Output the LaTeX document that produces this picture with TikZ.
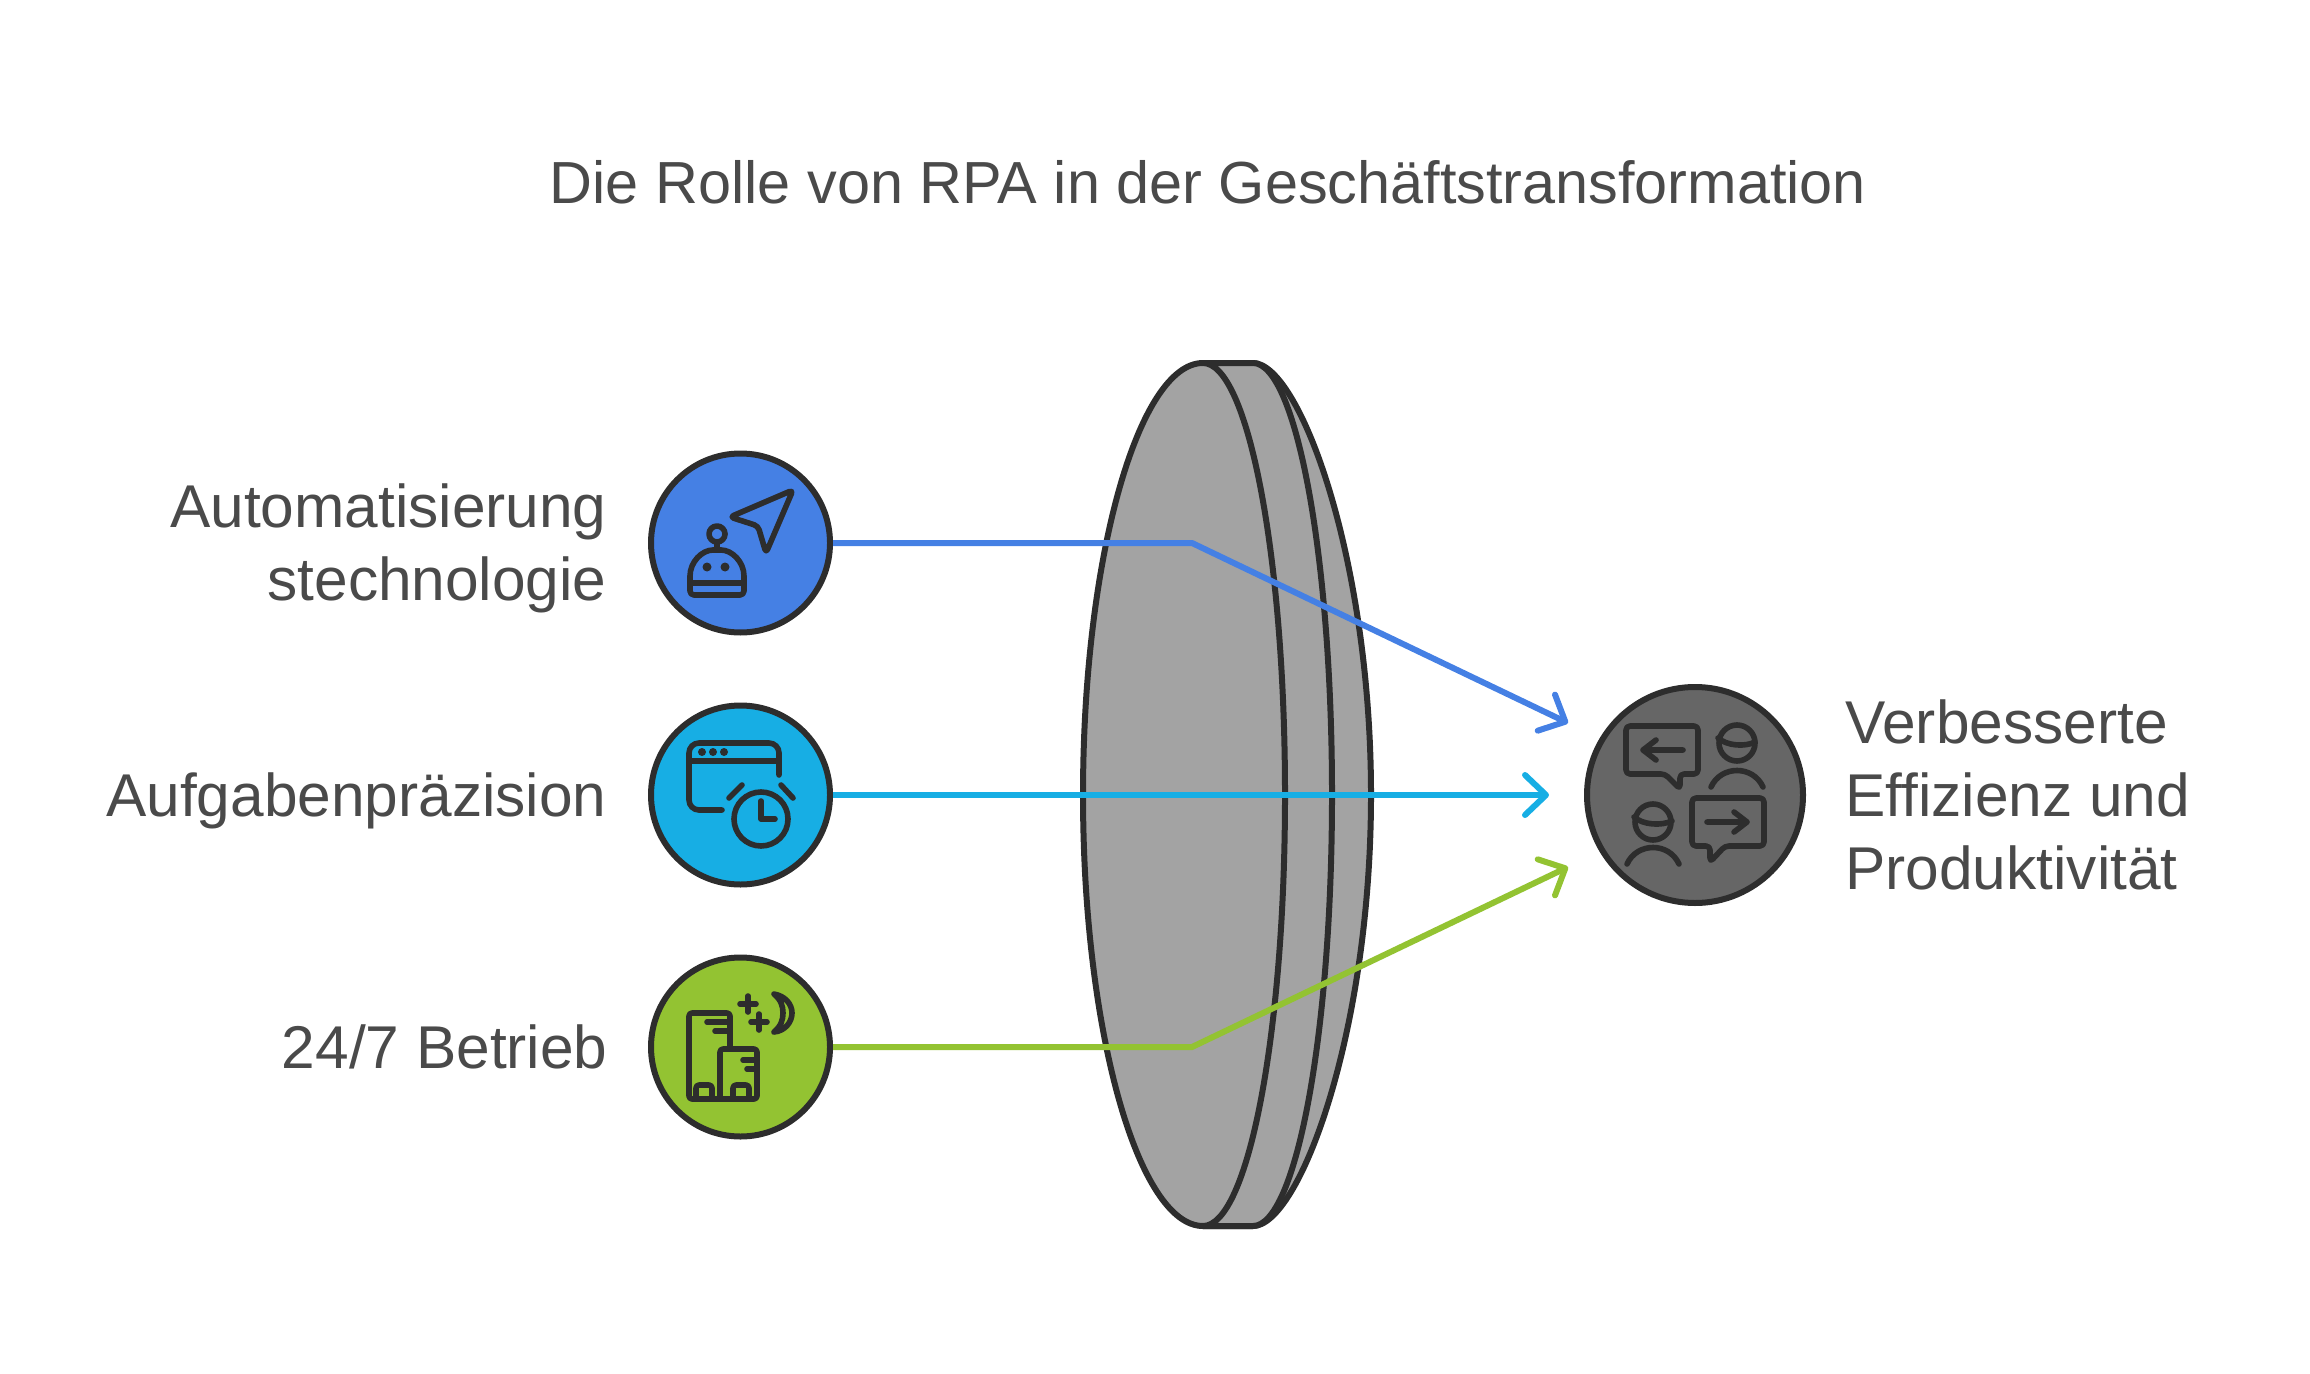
\documentclass[tikz,border=0pt]{standalone}
\usepackage{fontspec}
\setmainfont{Liberation Sans}
\usetikzlibrary{arrows.meta}
\definecolor{ink}{HTML}{2D2D2D}
\definecolor{txt}{HTML}{4A4A4A}
\definecolor{lensfill}{HTML}{A3A3A3}
\definecolor{cblue}{HTML}{4580E4}
\definecolor{ccyan}{HTML}{17AEE4}
\definecolor{cgreen}{HTML}{93C332}
\definecolor{cdark}{HTML}{666666}
\tikzset{
 px/.style={x=0.5pt,y=-0.5pt},
 disc/.style={circle,draw=ink,line width=3pt,minimum size=89.5pt,inner sep=0pt},
 lens/.style={draw=ink,line width=3pt,fill=lensfill,line join=round},
 conn/.style={line width=3pt,-{Straight Barb[length=10.5pt,width=20pt,line width=3pt,round]},line join=miter},
 ico/.style={draw=ink,line width=2.8pt,line cap=round,line join=round},
 lab/.style={text=txt,font=\fontsize{30.2pt}{36.6pt}\selectfont,inner sep=0pt},
}
\begin{document}
\begin{tikzpicture}[px]
\useasboundingbox (0,0) rectangle (2310,1374);
% lens
\path[lens] (1253,363) .. controls (1299,363) and (1371,557) .. (1371,795) .. controls (1371,1033) and (1299,1226) .. (1253,1226) -- (1203,1226) -- (1203,363) -- cycle;
\path[lens] (1253,363) .. controls (1296,363) and (1332,557) .. (1332,795) .. controls (1332,1033) and (1296,1226) .. (1253,1226) -- (1203,1226) -- (1203,363) -- cycle;
\path[lens] (1203,363) .. controls (1248,363) and (1285,557) .. (1285,795) .. controls (1285,1033) and (1248,1226) .. (1203,1226) .. controls (1139,1226) and (1083,1033) .. (1083,795) .. controls (1083,557) and (1139,363) .. (1203,363) -- cycle;
% title
\node[lab,font=\fontsize{29.7pt}{36pt}\selectfont] (title) at (1208,182) {Die Rolle von RPA in der Geschäftstransformation};
% discs
\node[disc,fill=cblue] (a) at (740.5,543) {};
\node[disc,fill=ccyan] (b) at (740.5,795) {};
\node[disc,fill=cgreen] (c) at (740.5,1047) {};
\node[disc,fill=cdark,minimum size=108pt] (d) at (1695,795) {};
% labels
\node[lab,align=right,anchor=east] (la) at (607,548) {Automatisierung\\stechnologie};
\node[lab,anchor=base east] (lb) at (607,816) {Aufgabenpräzision};
\node[lab,anchor=base east] (lc) at (608,1068) {24/7 Betrieb};
\node[lab,align=left,anchor=west] (ld) at (1845,795) {Verbesserte\\Effizienz und\\Produktivität};
% connectors
\coordinate (ta) at (1568,723);
\coordinate (tb) at (1549,795);
\coordinate (tc) at (1568,867);
\coordinate (ka) at (1192,543);
\coordinate (kc) at (1192,1047);
\draw[conn,cblue] (a.east) -- (ka) -- (ta);
\draw[conn,ccyan] (b.east) -- (tb);
\draw[conn,cgreen] (c.east) -- (kc) -- (tc);
% icon: robot + pointer
\draw[ico,rounded corners=2pt] (793,490) -- (730,517) -- (758,526) -- (766,553) -- cycle;
\draw[ico] (717,534) circle (8);
\draw[ico] (717,542) -- (717,550);
\draw[ico,rounded corners=2pt] (690,580) .. controls (690,562) and (702,550) .. (717,550) .. controls (732,550) and (744,562) .. (744,580) -- (744,595) -- (690,595) -- cycle;
\draw[ico] (690,583) -- (744,583);
\fill[ink] (707,567) circle (4.5) (725,567) circle (4.5);
% icon: window + clock
\draw[ico,rounded corners=5pt] (779,775) -- (779,743) -- (689,743) -- (689,810) -- (722,810);
\draw[ico] (689,761) -- (779,761);
\fill[ink] (702,752) circle (4) (713,752) circle (4) (724,752) circle (4);
\draw[ico] (761,819) circle (27);
\draw[ico] (761,801) -- (761,819) -- (775,819);
\draw[ico] (729,798) -- (742,785);
\draw[ico] (781,785) -- (793,798);
% icon: buildings + moon
\draw[ico,rounded corners=1.5pt] (730,1047) -- (730,1013) -- (689,1013) -- (689,1099) -- (757,1099) -- (757,1049) -- (720,1049) -- (720,1099);
\draw[ico] (707,1022) -- (730,1022) (715,1031) -- (730,1031);
\draw[ico] (743,1060) -- (757,1060) (747,1069) -- (757,1069);
\draw[ico,rounded corners=1.5pt] (696,1099) -- (696,1085) -- (712,1085) -- (712,1099);
\draw[ico,rounded corners=1.5pt] (733,1099) -- (733,1085) -- (749,1085) -- (749,1099);
\draw[ico] (748,996) -- (748,1012) (740,1004) -- (756,1004);
\draw[ico] (759,1014) -- (759,1030) (751,1022) -- (767,1022);
\draw[ico] (774,994) .. controls (785,996) and (792,1004) .. (792,1013) .. controls (792,1022) and (785,1031) .. (774,1032) .. controls (781,1026) and (783,1020) .. (783,1013) .. controls (783,1006) and (781,1000) .. (774,994) -- cycle;
% icon: chat
\draw[ico,rounded corners=2pt] (1626,726) -- (1698,726) -- (1698,774) -- (1680,774) -- (1680,789) -- (1665,774) -- (1626,774) -- cycle;
\draw[ico] (1683,750) -- (1643,750) (1656,740) -- (1643,750) -- (1656,760);
\draw[ico] (1737,743) circle (18);
\draw[ico] (1718,738) .. controls (1727,746) and (1745,747) .. (1755,742);
\draw[ico] (1711,787) .. controls (1721,765) and (1753,765) .. (1763,787);
\draw[ico,rounded corners=2pt] (1692,798) -- (1764,798) -- (1764,846) -- (1725,846) -- (1710,862) -- (1710,846) -- (1692,846) -- cycle;
\draw[ico] (1707,822) -- (1747,822) (1734,812) -- (1747,822) -- (1734,832);
\draw[ico] (1653,822) circle (18);
\draw[ico] (1634,817) .. controls (1643,825) and (1661,826) .. (1672,821);
\draw[ico] (1627,864) .. controls (1637,842) and (1669,842) .. (1679,864);
\end{tikzpicture}
\end{document}
